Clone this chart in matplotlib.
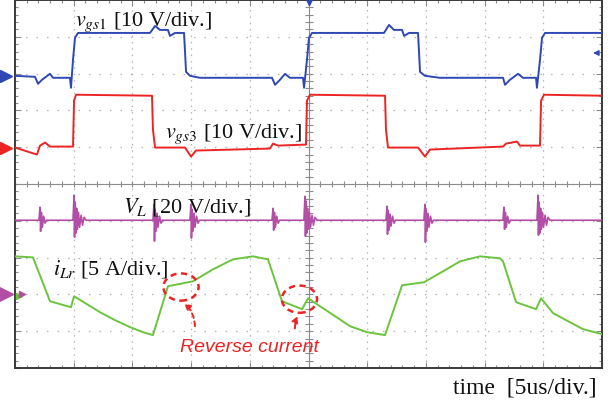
#!/usr/bin/env python3
"""Oscilloscope capture: gate signals, inductor voltage and resonant current."""

import matplotlib

matplotlib.use("Agg")
import matplotlib.pyplot as plt
import numpy as np
from matplotlib.patches import Ellipse, FancyArrowPatch

BLUE = "#2f48b4"
RED = "#ec2424"
MAGENTA = "#b24ea6"
GREEN = "#6cc43e"
GRID = "#b4b4b4"
FRAME = "#3a3a3a"
CENTER = "#8c8c8c"

# scope settings: volts (or amps) per division and ground offset in divisions
VGS_SCALE = 10.0
VL_SCALE = 20.0
ILR_SCALE = 5.0
VGS1_OFFSET = 2.94
VGS3_OFFSET = 0.99
VL_OFFSET = -2.99
ILR_OFFSET = -3.05

# v_gs1 [V] vs time [us]
VGS1_T = [0, 1.70, 1.96, 2.30, 2.98, 3.24, 4.68, 4.77, 4.94, 5.11, 5.37, 11.50, 11.93, 12.35,
          13.03, 13.20, 13.63, 14.40, 14.57, 14.91, 15.76, 21.89, 22.15, 22.57, 23.00, 23.42,
          24.53, 24.62, 24.87, 25.04, 25.30, 31.43, 31.86, 32.28, 32.97, 33.14, 33.56, 34.33,
          34.50, 34.92, 36.20, 41.57, 41.74, 42.16, 42.85, 43.27, 44.38, 44.46, 44.72, 44.89,
          45.15, 50.0]
VGS1_V = [0, -0.27, -2.17, -1.08, 0.54, -0.54, -0.54, -3.25, 4.34, 10.30, 11.65, 11.65, 13.55,
          12.47, 12.47, 10.84, 11.65, 11.65, 1.08, 0, -0.54, -0.54, -2.44, -1.08, 0.54, -0.54,
          -0.54, -3.25, 4.34, 10.30, 11.65, 11.65, 13.82, 12.47, 12.47, 10.84, 11.65, 11.65,
          1.08, 0, -0.54, -0.54, -2.44, -1.08, 0.54, -0.54, -0.54, -3.25, 4.34, 10.30, 11.65,
          11.65]

# v_gs3 [V] vs time [us]
VGS3_T = [0, 1.87, 2.13, 2.56, 2.98, 4.94, 5.03, 5.20, 11.67, 11.75, 11.93, 14.48, 14.99, 15.42,
          21.72, 21.98, 22.40, 24.79, 24.87, 25.13, 31.52, 31.60, 31.77, 34.33, 34.92, 35.35,
          41.57, 41.83, 42.76, 43.01, 44.72, 44.81, 45.06, 50.0]
VGS3_V = [0, -1.90, 0.54, 1.36, 0.27, 0.27, 12.74, 14.36, 14.09, 4.88, 0, 0, -2.44, -0.81,
          -0.27, 1.08, 0.54, 0.81, 12.74, 14.36, 14.09, 4.88, 0, 0, -2.44, -0.54,
          0.27, 1.08, 1.63, 0.54, 0.54, 12.74, 14.36, 14.09]

# V_L [V] vs time [us], switching bursts written out point by point
VL_T = [0,
        2.04, 2.13, 2.18, 2.25, 2.33, 2.44, 2.56, 2.68,
        4.94, 5.03, 5.07, 5.13, 5.18, 5.25, 5.32, 5.41, 5.50, 5.63, 5.75, 5.88, 6.05,
        11.75, 11.84, 11.88, 11.94, 12.01, 12.10, 12.18, 12.31, 12.44, 12.56,
        14.90, 14.99, 15.03, 15.09, 15.16, 15.25, 15.33, 15.46, 15.59, 15.71,
        21.89, 21.98, 22.03, 22.10, 22.18, 22.29, 22.41, 22.53,
        24.61, 24.70, 24.74, 24.80, 24.85, 24.92, 24.99, 25.08, 25.17, 25.30, 25.42, 25.55, 25.72,
        31.60, 31.69, 31.73, 31.79, 31.86, 31.95, 32.03, 32.16, 32.29, 32.41,
        34.83, 34.92, 34.96, 35.02, 35.09, 35.18, 35.26, 35.39, 35.52, 35.64,
        41.56, 41.65, 41.70, 41.77, 41.85, 41.96, 42.08, 42.20,
        44.46, 44.55, 44.59, 44.65, 44.70, 44.77, 44.84, 44.93, 45.02, 45.15, 45.27, 45.40, 45.57,
        50.0]
VL_V = [40.1,
        40.1, 47.2, 34.1, 44.4, 36.3, 42.3, 38.5, 40.1,
        40.1, 53.7, 30.9, 49.9, 33.1, 46.6, 35.2, 44.4, 36.3, 42.8, 37.4, 41.7, 40.1,
        40.1, 48.8, 28.7, 46.1, 34.1, 43.9, 36.3, 42.3, 38.5, 40.1,
        40.1, 48.8, 30.4, 46.1, 34.1, 43.9, 36.3, 42.3, 38.5, 40.1,
        40.1, 46.6, 34.7, 44.4, 36.3, 42.3, 38.5, 40.1,
        40.1, 53.1, 31.4, 50.4, 33.1, 46.6, 35.2, 44.4, 36.3, 42.8, 37.4, 41.7, 40.1,
        40.1, 47.7, 32.5, 45.5, 34.7, 43.4, 36.9, 42.3, 38.5, 40.1,
        40.1, 48.8, 28.2, 46.1, 34.1, 43.9, 36.3, 42.3, 38.5, 40.1,
        40.1, 47.2, 35.2, 44.4, 36.3, 42.3, 38.5, 40.1,
        40.1, 53.7, 32.0, 49.9, 33.1, 46.6, 35.2, 44.4, 36.3, 42.8, 37.4, 41.7, 40.1,
        40.1]

# i_Lr [A] vs time [us]
ILR_T = [0, 1.53, 2.98, 4.77, 5.03, 6.13, 7.24, 8.52, 9.80, 10.90, 11.75, 13.03, 15.16, 16.87,
         18.57, 20.27, 21.55, 22.74, 24.45, 24.96, 25.98, 27.26, 28.54, 29.98, 31.52, 32.97,
         34.84, 36.46, 37.91, 39.61, 41.31, 41.57, 42.68, 44.38, 44.81, 45.83, 47.11, 48.38, 50.0]
ILR_I = [5.42, 5.28, -0.68, -1.49, 0, -1.08, -2.17, -3.25, -4.20, -4.88, -5.28, 1.36, 2.03, 3.66,
         5.01, 5.42, 5.01, -0.68, -1.76, -0.27, -1.36, -2.71, -4.07, -4.88, -5.28, 1.49,
         1.90, 3.39, 4.74, 5.42, 5.15, 4.74, -0.81, -1.76, -0.27, -2.30, -3.39, -4.47, -5.15]

# reverse-current marks: centre time [us], centre level [div]
MARK_T = [14.14, 24.23]
MARK_Y = [-2.80, -3.13]


def draw_graticule(ax):
    for t in range(5, 50, 5):
        ax.axvline(t, color=GRID, lw=0.9, ls=(0, (1.2, 3.9)), zorder=1)
    for d in range(-4, 5):
        ax.axhline(d, color=GRID, lw=0.9, ls=(0, (1.2, 7.2)), zorder=1)
    ax.axhline(0, color=CENTER, lw=0.8, zorder=1)
    ax.axvline(25, color=CENTER, lw=0.8, zorder=1)
    sub_t = np.arange(0, 50.01, 1.0)
    sub_d = np.arange(-5, 5.01, 0.2)
    ax.plot(sub_t, np.zeros_like(sub_t), ls="none", marker="|", ms=5, mew=0.8, color=CENTER, zorder=1)
    ax.plot(np.full_like(sub_d, 25), sub_d, ls="none", marker="_", ms=6, mew=0.8, color=CENTER, zorder=1)

    ax.set_xlim(0, 50)
    ax.set_ylim(-5, 5)
    ax.set_xticks(np.arange(0, 50.01, 5))
    ax.set_xticks(sub_t, minor=True)
    ax.set_yticks(np.arange(-5, 5.01, 1))
    ax.set_yticks(sub_d, minor=True)
    ax.tick_params(which="both", direction="in", top=True, right=True, labelleft=False,
                   labelbottom=False, color=CENTER, width=0.8)
    ax.tick_params(which="major", length=4)
    ax.tick_params(which="minor", length=2.5)
    for spine in ax.spines.values():
        spine.set_color(FRAME)
        spine.set_linewidth(1.4)


def draw_traces(ax):
    ax.plot(VGS1_T, np.array(VGS1_V) / VGS_SCALE + VGS1_OFFSET, color=BLUE, lw=1.4, zorder=4)
    ax.plot(VGS3_T, np.array(VGS3_V) / VGS_SCALE + VGS3_OFFSET, color=RED, lw=1.4, zorder=4)
    ax.plot(VL_T, np.array(VL_V) / VL_SCALE + VL_OFFSET, color=MAGENTA, lw=1.2, zorder=4)
    ax.plot(ILR_T, np.array(ILR_I) / ILR_SCALE + ILR_OFFSET, color=GREEN, lw=1.4, zorder=4)

    # channel ground markers at the left edge
    ax.plot([-0.8], [VGS1_OFFSET], marker=">", ms=9, color=BLUE, clip_on=False, zorder=6)
    ax.plot([-0.8], [VGS3_OFFSET], marker=">", ms=9, color=RED, clip_on=False, zorder=6)
    ax.plot([-0.8], [VL_OFFSET], marker=">", ms=10, color=MAGENTA, clip_on=False, zorder=6)
    ax.plot([0.35], [ILR_OFFSET], marker=">", ms=5, color=GREEN, clip_on=False, zorder=6)
    ax.plot([0.6], [VL_OFFSET], marker=">", ms=4, color=MAGENTA, clip_on=False, zorder=6)
    ax.plot([25], [4.97], marker="v", ms=6, color=BLUE, clip_on=False, zorder=6)
    ax.annotate("", xy=(49.0, 3.56), xytext=(49.9, 3.56),
                arrowprops={"arrowstyle": "-|>", "color": BLUE, "lw": 1.0, "mutation_scale": 8})


def draw_labels(ax):
    kw = {"fontsize": 16, "color": "#111111", "family": "Liberation Serif", "va": "baseline", "zorder": 7}
    ax.text(5.11, 4.32, r"$v_{\mathit{gs1}}$ [10 V/div.]", **kw)
    ax.text(12.78, 1.29, r"$v_{\mathit{gs3}}$ [10 V/div.]", **kw)
    ax.text(9.2, -0.745, r"$V_L$ [20 V/div.]", **kw)
    ax.text(3.24, -2.43, r"$i_{Lr}$ [5 A/div.]", **kw)

    for t, y in zip(MARK_T, MARK_Y):
        ax.add_patch(Ellipse((t, y), width=3.0, height=0.74, fill=False, edgecolor=RED,
                             lw=1.8, ls=(0, (2.5, 1.8)), zorder=8))
    arrows = [((15.33, -3.94), (14.23, -3.19), 0.25), ((23.85, -4.00), (24.19, -3.52), -0.15)]
    for tail, head, rad in arrows:
        ax.add_patch(FancyArrowPatch(tail, head, arrowstyle="-|>", mutation_scale=9,
                                     connectionstyle=f"arc3,rad={rad}", color=RED, lw=1.4,
                                     ls=(0, (2.5, 1.8)), zorder=8))
    ax.text(20.0, -4.54, "Reverse current", fontsize=14, style="italic", color=RED,
            family="Liberation Sans", ha="center", va="baseline", zorder=8)


def main():
    plt.rcParams["mathtext.fontset"] = "stix"
    fig = plt.figure(figsize=(6.10, 4.06), dpi=100)
    ax = fig.add_axes([15 / 610, 37 / 406, 587 / 610, 368 / 406])
    ax.set_facecolor("#ffffff")
    draw_graticule(ax)
    draw_traces(ax)
    draw_labels(ax)
    fig.text(597 / 610, 1 - 394 / 406, "time  [5us/div.]", fontsize=17, family="Liberation Serif",
             color="#111111", ha="right", va="baseline")
    fig.savefig("out.png", dpi=100)
    plt.close(fig)


if __name__ == "__main__":
    main()
